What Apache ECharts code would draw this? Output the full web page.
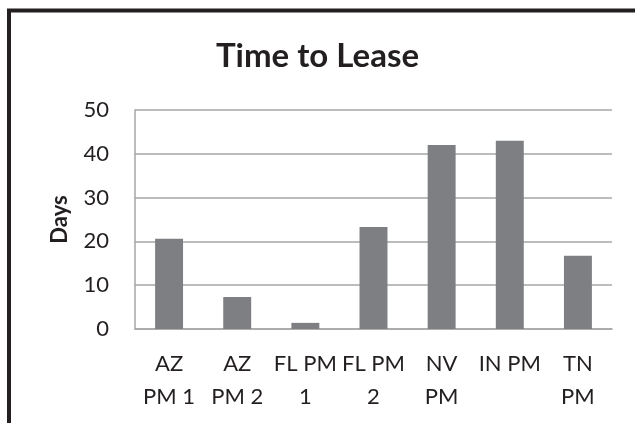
<!DOCTYPE html>
<html>
<head>
<meta charset="utf-8">
<script src="https://cdn.jsdelivr.net/npm/echarts@6/dist/echarts.min.js"></script>
<style>
html,body{margin:0;padding:0;background:#fff;}
#c{width:635px;height:423px;}
</style>
</head>
<body>
<div id="c"></div>
<script>
var categories = ["AZ\nPM 1", "AZ\nPM 2", "FL PM\n1", "FL PM\n2", "NV\nPM", "IN PM", "TN\nPM"];
var days = [20.6, 7.3, 1.4, 23.3, 42.0, 43.0, 16.7];
var yTicks = [0, 10, 20, 30, 40, 50];

var chart = echarts.init(document.getElementById('c'));
var font = 'Lato, "Open Sans", sans-serif';
chart.setOption({
  animation: false,
  backgroundColor: '#fff',
  title: {
    text: 'Time to Lease',
    left: 'center',
    top: 35,
    textStyle: {fontFamily: font, fontSize: 33, fontWeight: 'bold', color: '#231f20'}
  },
  graphic: [{
    type: 'rect',
    shape: {x: 9, y: 10.5, width: 700, height: 600},
    style: {fill: 'none', stroke: '#231f20', lineWidth: 4},
    silent: true,
    z: 100
  }],
  grid: {left: 135, right: 23, top: 110, bottom: 94, containLabel: false},
  xAxis: {
    type: 'category',
    data: categories,
    axisLine: {lineStyle: {color: '#a6a6a6', width: 1.5}},
    axisTick: {show: false},
    axisLabel: {
      interval: 0,
      margin: 18,
      fontFamily: font,
      fontSize: 22,
      lineHeight: 33,
      color: '#231f20'
    }
  },
  yAxis: {
    type: 'value',
    min: 0,
    max: 50,
    interval: 10,
    name: 'Days',
    nameLocation: 'middle',
    nameGap: 64,
    nameRotate: 90,
    nameTextStyle: {fontFamily: font, fontSize: 22, fontWeight: 'bold', color: '#231f20'},
    axisLine: {show: true, lineStyle: {color: '#a6a6a6', width: 1.5}},
    axisTick: {show: false},
    splitLine: {lineStyle: {color: '#a6a6a6', width: 1.5}},
    axisLabel: {
      margin: 26,
      fontFamily: font,
      fontSize: 22,
      color: '#231f20',
      formatter: function (v) { return yTicks.indexOf(v) >= 0 ? String(v) : ''; }
    }
  },
  series: [{
    type: 'bar',
    data: days,
    barWidth: '41%',
    itemStyle: {color: '#7e7f83'}
  }]
});
</script>
</body>
</html>
